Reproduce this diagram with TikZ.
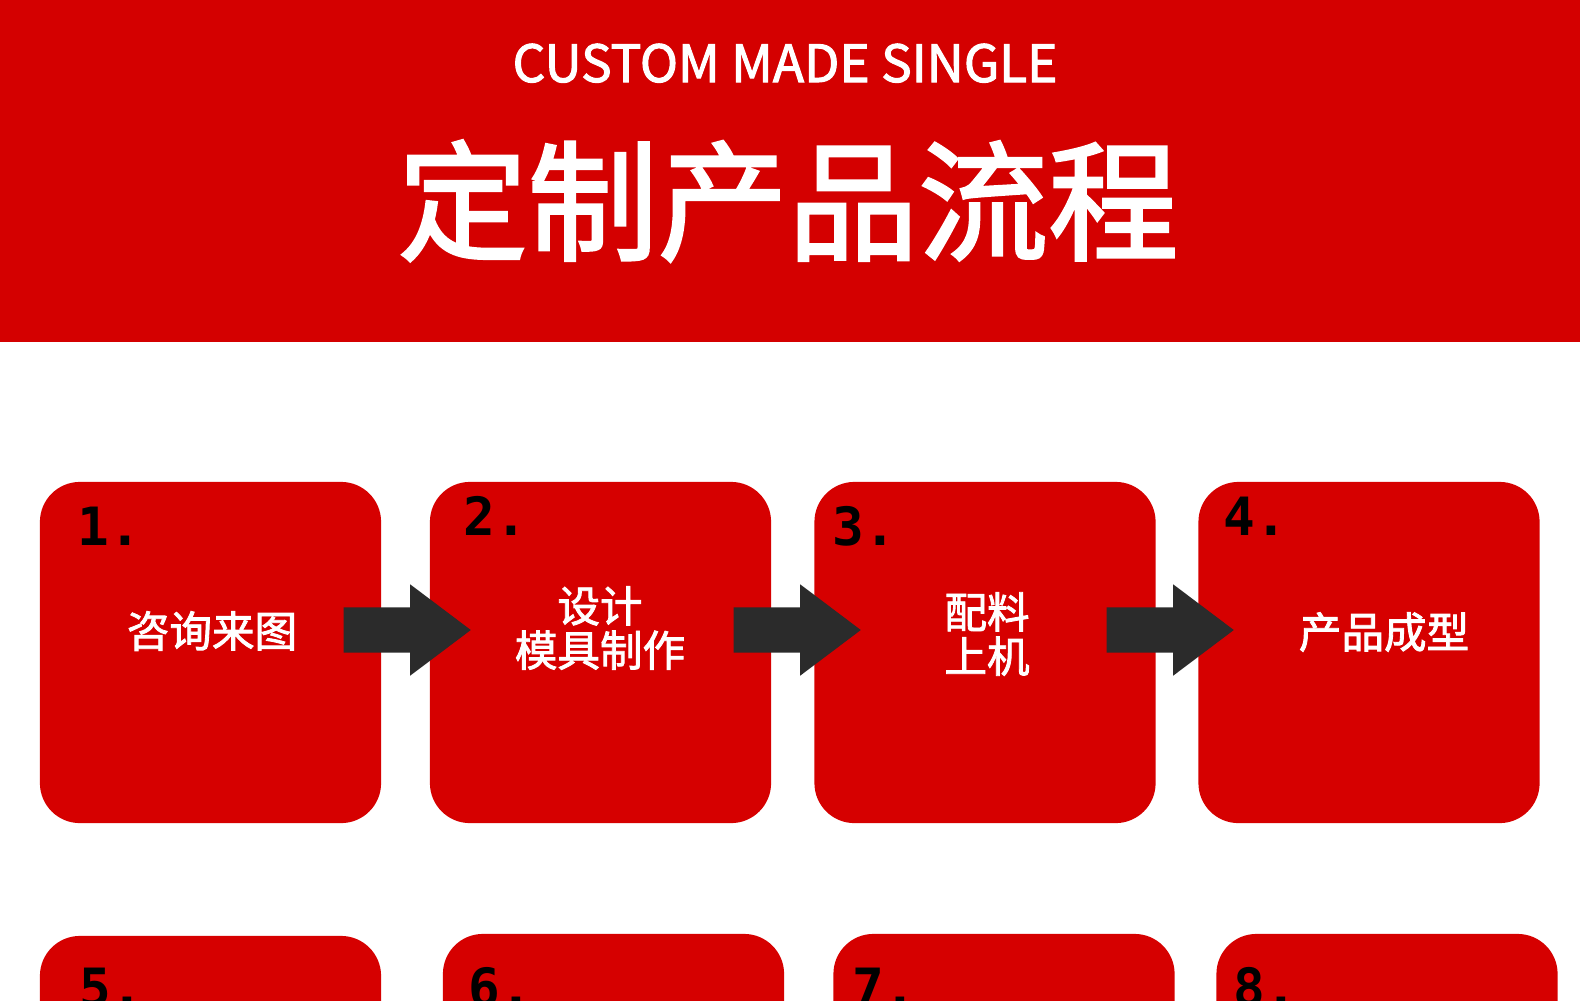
\documentclass[tikz,border=0pt]{standalone}
\usepackage{fontspec}
\newfontfamily\cjk{Noto Sans CJK SC}
\newfontfamily\cjkmid[FakeBold=2]{Noto Sans CJK SC}
\newfontfamily\nummono{DejaVu Sans Mono}
\usepackage{tikz}
\usetikzlibrary{shapes.arrows}

\definecolor{hdrred}{HTML}{D40000}
\definecolor{boxred}{HTML}{D60000}
\definecolor{arrowgray}{HTML}{2B2B2B}

\tikzset{
  stepbox/.style={fill=boxred,rounded corners=0.4cm,minimum width=3.41cm,minimum height=3.41cm,inner sep=0pt},
  steptext/.style={text=white,align=center,inner sep=0pt,font=\cjkmid\fontsize{12.1}{12.6}\selectfont},
  stepnum/.style={anchor=base west,inner sep=0pt,font=\nummono\bfseries\fontsize{15}{15}\selectfont},
  blkarrow/.style={shape=single arrow,fill=arrowgray,anchor=tail,inner xsep=0pt,inner ysep=0.22cm,
    minimum height=1.27cm,single arrow head extend=0.23cm,single arrow tip angle=74}
}

\begin{document}
\begin{tikzpicture}[x=0.01cm,y=-0.01cm]
			\useasboundingbox (0,0) rectangle (1580,1000);
			\clip (0,0) rectangle (1580,1000);
			
			% 标题栏
			\fill[hdrred] (0,0) rectangle (1580,342);
			\node[text=white,anchor=base,inner sep=0pt,font=\cjkmid\fontsize{14.6}{14.6}\selectfont] (en) at (785,82) {CUSTOM MADE SINGLE};
			\node[text=white,inner sep=0pt,font=\cjkmid\fontsize{37}{37}\selectfont] (title) at (788,201) {定制产品流程};
			
			% 第一行
			\node[stepbox] (b1) at (210.5,652.5) {};
			\node[stepbox] (b2) at (600.5,652.5) {};
			\node[stepbox] (b3) at (985,652.5) {};
			\node[stepbox] (b4) at (1369,652.5) {};
			
			\node[stepnum] (n1) at (77,545) {1.};
			\node[stepnum] (n2) at (463,535) {2.};
			\node[stepnum] (n3) at (832,545) {3.};
			\node[stepnum] (n4) at (1223,535) {4.};
			
			\node[steptext] (t1) at (212,631) {咨询来图};
			\node[steptext] (t2) at (600,628) {设计\\模具制作};
			\node[steptext] (t3) at (987,634) {配料\\上机};
			\node[steptext] (t4) at (1384,632) {产品成型};
			
			\node[blkarrow] (a1) at (343,630) {};
			\node[blkarrow] (a2) at (733,630) {};
			\node[blkarrow] (a3) at (1106,630) {};
			
			% 第二行
			\node[stepbox] (b5) at (210.5,1106.5) {};
			\node[stepbox] (b6) at (613.5,1104.5) {};
			\node[stepbox] (b7) at (1004,1104.5) {};
			\node[stepbox] (b8) at (1387,1104.5) {};
			
			\node[stepnum] (n5) at (79,1006) {5.};
			\node[stepnum] (n6) at (468,1006) {6.};
			\node[stepnum] (n7) at (852,1006) {7.};
			\node[stepnum] (n8) at (1233,1006) {8.};
			
		\end{tikzpicture}
\end{document}
